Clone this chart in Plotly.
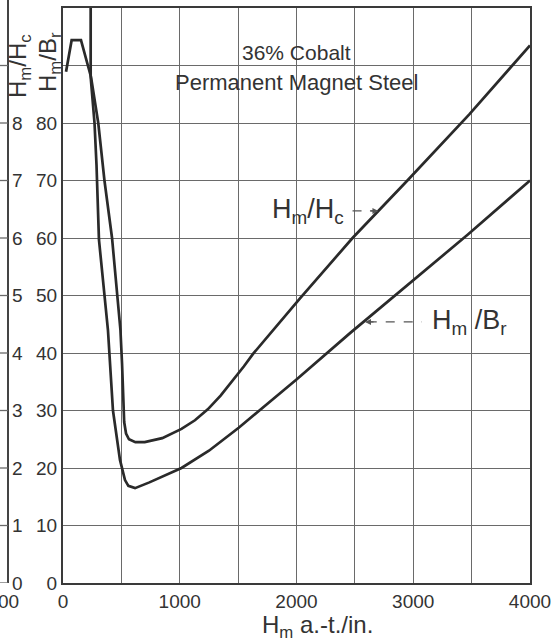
import plotly.graph_objects as go

# H_m in ampere-turns per inch
hm_hc_x = [26, 74, 154, 240, 302, 355, 420, 468, 492, 506, 514, 524, 540, 565, 620,
           700, 850, 1015, 1130, 1240, 1350, 1456, 1550, 1626, 1800, 2030, 2480, 2950,
           3480, 4000]
# H_m/H_c, read on the outer (0-10) scale
hm_hc_y = [8.89, 9.44, 9.44, 8.8, 8.0, 7.0, 6.0, 5.0, 4.4, 3.8, 3.2, 2.8, 2.6, 2.5, 2.45,
           2.45, 2.52, 2.68, 2.83, 3.02, 3.26, 3.52, 3.77, 3.98, 4.4, 4.95, 6.0, 7.0,
           8.15, 9.35]

hm_br_x = [237, 237, 270, 287, 308, 360, 385, 428, 488, 531, 560, 617,
           740, 1015, 1250, 1505, 1750, 2000, 2461, 2805, 3000, 3468, 4000]
# H_m/B_r, read on the inner (0-100) scale
hm_br_y = [101, 88, 80, 72.7, 59.7, 49.7, 44, 30, 21.4, 17.9, 16.9, 16.5,
           17.5, 20, 23.0, 27.0, 31.1, 35.4, 43.5, 49.3, 52.6, 60.6, 70]

x_ticks = [0, 500, 1000, 1500, 2000, 2500, 3000, 3500, 4000]
x_labels = ['0', '', '1000', '', '2000', '', '3000', '', '4000']
y_ticks = [0, 10, 20, 30, 40, 50, 60, 70, 80, 90, 100]
y_labels = ['0', '10', '20', '30', '40', '50', '60', '70', '80', '', '']
outer_labels = ['0', '1', '2', '3', '4', '5', '6', '7', '8']

font = 'Liberation Sans'
ink = '#2a2a2a'
grid = '#6a6a6a'
txt = '#333333'

fig = go.Figure()

# H_m/H_c shares the grid: its scale is one tenth of the inner scale
fig.add_trace(go.Scatter(x=hm_hc_x, y=[v * 10 for v in hm_hc_y], mode='lines',
                         line=dict(color=ink, width=2.7), showlegend=False))
fig.add_trace(go.Scatter(x=hm_br_x, y=hm_br_y, mode='lines',
                         line=dict(color=ink, width=2.7), showlegend=False))

fig.update_layout(
    width=558, height=643,
    margin=dict(l=0, r=28, t=8, b=60),
    plot_bgcolor='white', paper_bgcolor='white',
    font=dict(family=font, color=txt),
    xaxis=dict(domain=[63 / 530, 1], range=[0, 4000],
               tickvals=x_ticks, ticktext=x_labels,
               showgrid=True, gridcolor=grid, gridwidth=1.4,
               showline=True, linecolor='#3a3a3a', linewidth=2, mirror=True,
               ticks='', zeroline=False, tickfont=dict(size=19),
               automargin=False),
    yaxis=dict(range=[0, 100], tickvals=y_ticks, ticktext=y_labels,
               showgrid=True, gridcolor=grid, gridwidth=1.4,
               showline=True, linecolor='#3a3a3a', linewidth=2, mirror=True,
               ticks='', zeroline=False, tickfont=dict(size=19),
               automargin=False),
)

# outer scale (H_m/H_c)
for i, lab in enumerate(outer_labels):
    fig.add_annotation(x=25 / 530, y=y_ticks[i], xref='paper', yref='y',
                       xanchor='right', yanchor='middle',
                       text=lab, showarrow=False, font=dict(size=19, color=txt))

# axis titles
fig.add_annotation(x=19 / 530, y=0.899, xref='paper', yref='paper', textangle=-90,
                   xanchor='center', yanchor='middle',
                   text='H<sub>m</sub>/H<sub>c</sub>', showarrow=False,
                   font=dict(size=24, color=txt))
fig.add_annotation(x=49 / 530, y=0.906, xref='paper', yref='paper', textangle=-90,
                   xanchor='center', yanchor='middle',
                   text='H<sub>m</sub>/B<sub>r</sub>', showarrow=False,
                   font=dict(size=24, color=txt))
fig.add_annotation(x=317 / 530, y=-0.0765, xref='paper', yref='paper',
                   xanchor='center', yanchor='middle',
                   text='H<sub>m</sub> a.-t./in.', showarrow=False,
                   font=dict(size=24, color=txt))

# material note
fig.add_annotation(x=2004, y=92.3, text='36% Cobalt', showarrow=False,
                   font=dict(size=21, color=txt))
fig.add_annotation(x=1996, y=87.1, text='Permanent Magnet Steel', showarrow=False,
                   font=dict(size=22, color=txt))

# curve labels with dashed leader arrows
fig.add_annotation(x=2100, y=64.7, text='H<sub>m</sub>/H<sub>c</sub>', showarrow=False,
                   font=dict(size=27, color=txt))
fig.add_shape(type='line', x0=2480, x1=2680, y0=64.7, y1=64.7,
              line=dict(color='#555555', width=1.2, dash='dash'))
fig.add_annotation(x=2702, y=64.7, ax=-10, ay=0, text='', showarrow=True,
                   arrowhead=2, arrowsize=1, arrowwidth=1.2, arrowcolor='#555555')

fig.add_annotation(x=3486, y=45.4, text='H<sub>m</sub> /B<sub>r</sub>', showarrow=False,
                   font=dict(size=27, color=txt))
fig.add_shape(type='line', x0=2610, x1=3075, y0=45.4, y1=45.4,
              line=dict(color='#555555', width=1.2, dash='dash'))
fig.add_annotation(x=2587, y=45.4, ax=10, ay=0, text='', showarrow=True,
                   arrowhead=2, arrowsize=1, arrowwidth=1.2, arrowcolor='#555555')

# edge of the neighbouring chart at the left border
fig.add_shape(type='line', xref='paper', yref='paper', x0=8 / 530, x1=8 / 530,
              y0=0, y1=1.02, line=dict(color='#444444', width=2))
for v in y_ticks[:-1]:
    fig.add_shape(type='line', xref='paper', yref='y', x0=0, x1=8 / 530, y0=v, y1=v,
                  line=dict(color=grid, width=1.3))
fig.add_annotation(x=21 / 530, y=-0.033, xref='paper', yref='paper',
                   xanchor='right', yanchor='middle',
                   text='00', showarrow=False, font=dict(size=19, color=txt))

# the page body has a default margin; drop it so the figure sits at the corner
fig.write_html("out.html", config={'displayModeBar': False},
               post_script="document.body.style.margin='0';")
